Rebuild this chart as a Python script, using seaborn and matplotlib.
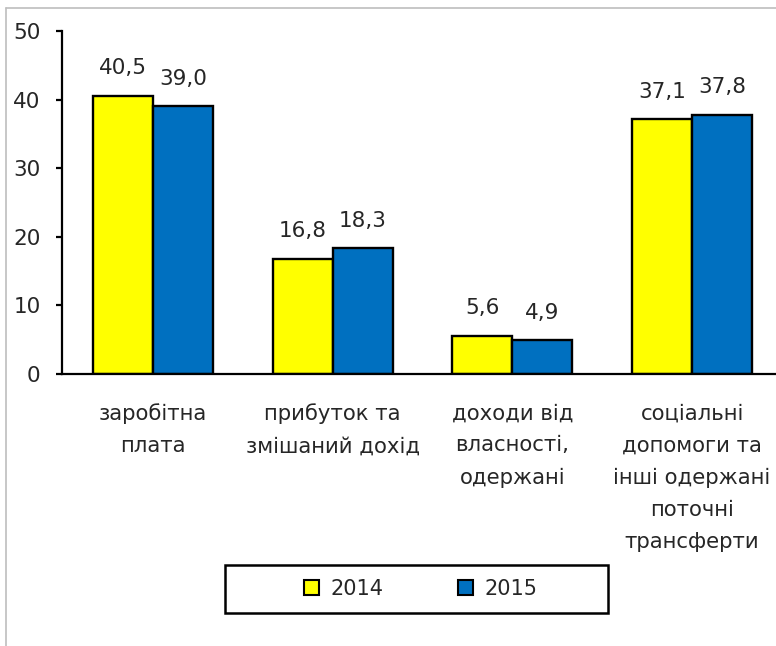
import matplotlib
matplotlib.use("Agg")
import matplotlib.pyplot as plt
import seaborn as sns
import pandas as pd
from matplotlib.lines import Line2D
from matplotlib.patches import Rectangle, Patch

categories = [
    "заробітна\nплата",
    "прибуток та\nзмішаний дохід",
    "доходи від\nвласності,\nодержані",
    "соціальні\nдопомоги та\nінші одержані\nпоточні\nтрансферти",
]
years = ["2014", "2015"]
values_2014 = [40.5, 16.8, 5.6, 37.1]
values_2015 = [39.0, 18.3, 4.9, 37.8]
label_texts_2014 = ["40,5", "16,8", "5,6", "37,1"]
label_texts_2015 = ["39,0", "18,3", "4,9", "37,8"]
y_ticks = [0, 10, 20, 30, 40, 50]

colors = {"2014": "#FFFF00", "2015": "#0070C0"}

df = pd.DataFrame({
    "category": categories * 2,
    "year": [years[0]] * 4 + [years[1]] * 4,
    "value": values_2014 + values_2015,
})

sns.set_style("white")
plt.rcParams["font.family"] = ["DejaVu Sans"]

W, H = 776, 646
fig = plt.figure(figsize=(W / 100, H / 100), dpi=100)
ax = fig.add_axes([62 / W, 1 - 374 / H, 1 - 62 / W, (374 - 31) / H])

sns.barplot(data=df, x="category", y="value", hue="year", order=categories,
            hue_order=years, palette=colors, width=2 / 3, gap=0,
            edgecolor="black", linewidth=1.7, saturation=1, ax=ax, legend=False)

ax.set_xlim(-0.506, 3.467)
ax.set_ylim(0, 50)
ax.set_yticks(y_ticks)
ax.set_xlabel("")
ax.set_ylabel("")
for s in ["top", "right"]:
    ax.spines[s].set_visible(False)
for s in ["left", "bottom"]:
    ax.spines[s].set_color("black")
    ax.spines[s].set_linewidth(1.6)
ax.tick_params(axis="y", length=4.5, width=1.6, color="black", pad=11,
               labelsize=15.5, direction="out", left=True)
ax.tick_params(axis="x", length=0, pad=21, labelsize=15.3)
for lab in ax.get_xticklabels():
    lab.set_linespacing(1.76)
    lab.set_verticalalignment("top")

# data labels
for cont, texts in [(ax.containers[0], label_texts_2014),
                    (ax.containers[1], label_texts_2015)]:
    for bar, t in zip(cont, texts):
        ax.annotate(t, (bar.get_x() + bar.get_width() / 2, bar.get_height()),
                    xytext=(0, 20), textcoords="offset points",
                    ha="center", va="center", fontsize=15.5)

# figure border (top and left only visible)
fig.add_artist(Line2D([6 / W, 1], [1 - 8 / H, 1 - 8 / H], transform=fig.transFigure,
                      color="#BEBEBE", lw=1.2))
fig.add_artist(Line2D([6 / W, 6 / W], [0, 1 - 8 / H], transform=fig.transFigure,
                      color="#BEBEBE", lw=1.2))

# legend box
fig.add_artist(Rectangle((225 / W, 1 - 613 / H), (608 - 225) / W, (613 - 565) / H,
                         transform=fig.transFigure, fill=False, edgecolor="black",
                         lw=1.8))
handles = [Patch(facecolor=colors[y], edgecolor="black", lw=1.5) for y in years]
fig.legend(handles, years, loc="center", bbox_to_anchor=(421 / W, 1 - 589 / H),
           ncol=2, frameon=False, fontsize=15, handlelength=0.7, handleheight=0.7,
           handletextpad=0.55, columnspacing=3.6)

fig.savefig("out.png", dpi=100)
